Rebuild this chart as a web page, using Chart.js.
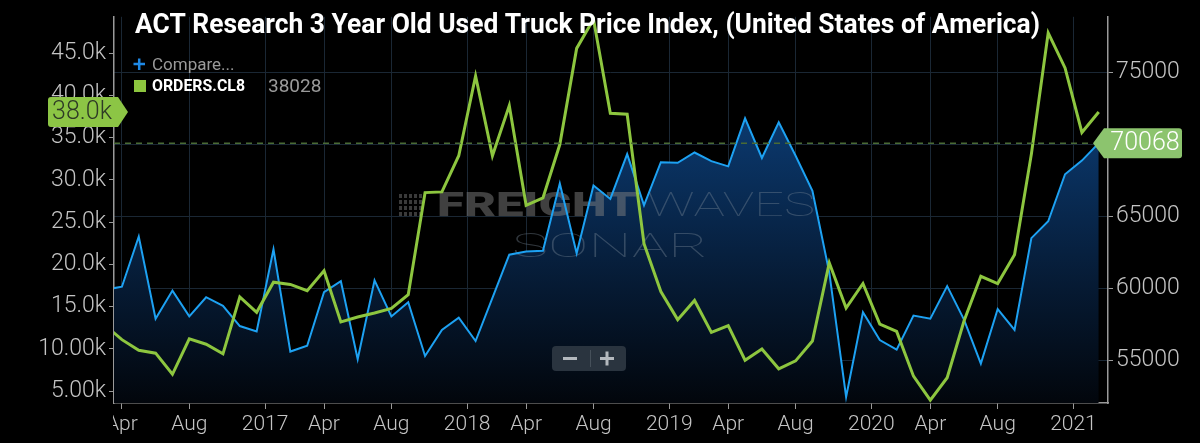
<!DOCTYPE html>
<html>
<head>
<meta charset="utf-8">
<script src="https://cdn.jsdelivr.net/npm/chart.js@4.4.0/dist/chart.umd.min.js"></script>
<style>
  html, body { margin: 0; padding: 0; background: #000; }
  #wrap { width: 1200px; height: 443px; }
</style>
</head>
<body>
<div id="wrap"><canvas id="myChart" width="1200" height="443"></canvas></div>
<script>
// monthly points, Mar 2016 .. Feb 2021 (x = month index, Apr 2016 = 0)
var months = [
  'Mar 16', 'Apr 16', 'May 16', 'Jun 16', 'Jul 16', 'Aug 16', 'Sep 16', 'Oct 16', 'Nov 16', 'Dec 16',
  'Jan 17', 'Feb 17', 'Mar 17', 'Apr 17', 'May 17', 'Jun 17', 'Jul 17', 'Aug 17', 'Sep 17', 'Oct 17', 'Nov 17', 'Dec 17',
  'Jan 18', 'Feb 18', 'Mar 18', 'Apr 18', 'May 18', 'Jun 18', 'Jul 18', 'Aug 18', 'Sep 18', 'Oct 18', 'Nov 18', 'Dec 18',
  'Jan 19', 'Feb 19', 'Mar 19', 'Apr 19', 'May 19', 'Jun 19', 'Jul 19', 'Aug 19', 'Sep 19', 'Oct 19', 'Nov 19', 'Dec 19',
  'Jan 20', 'Feb 20', 'Mar 20', 'Apr 20', 'May 20', 'Jun 20', 'Jul 20', 'Aug 20', 'Sep 20', 'Oct 20', 'Nov 20', 'Dec 20',
  'Jan 21', 'Feb 21'
];

// ORDERS.CL8 (left axis)
var orders = [
  12800, 11100, 9840, 9500, 7000, 11200, 10560, 9420, 16160, 14340,
  17900, 17630, 16900, 19250, 13200, 13780, 14260, 14800, 16420, 28500, 28580, 32860,
  42300, 32860, 38790, 27000, 27870, 34180, 45560, 49000, 37880, 37770, 22460, 16790,
  13470, 15740, 11960, 12760, 8670, 9990, 7650, 8590, 10940, 20190, 14830, 17740,
  12940, 12070, 6780, 3950, 6590, 13300, 18600, 17740, 21150, 33050, 47400, 43250,
  35610, 38028
];

// ACT Research 3 year old used truck price (right axis)
var usedPrice = [
  59900, 60110, 63590, 57890, 59840, 58050, 59380, 58780, 57380, 57010,
  62700, 55610, 56010, 59730, 60490, 55080, 60550, 58050, 59040, 55300, 57110, 57960,
  56340, 59340, 62330, 62550, 62610, 67270, 62430, 67130, 66200, 69310, 65760, 68750,
  68710, 69420, 68820, 68460, 71790, 69040, 71520, 69200, 66760, 61100, 52460, 58340,
  56410, 55740, 58110, 57890, 60150, 57830, 54770, 58560, 57110, 63480, 64650, 67910,
  68860, 70068
];

var xTickPos = [0, 4, 8.5, 12, 16, 20.5, 24, 28, 32.5, 36, 40, 44.5, 48, 52, 56.5];
var xTickText = ['Apr', 'Aug', '2017', 'Apr', 'Aug', '2018', 'Apr', 'Aug', '2019', 'Apr', 'Aug', '2020', 'Apr', 'Aug', '2021'];
var leftTicks = [5000, 10000, 15000, 20000, 25000, 30000, 35000, 40000, 45000];
var leftTickText = ['5.00k', '10.00k', '15.0k', '20.0k', '25.0k', '30.0k', '35.0k', '40.0k', '45.0k'];
var rightTicks = [55000, 60000, 65000, 70000, 75000];

var title = 'ACT Research 3 Year Old Used Truck Price Index, (United States of America)';
var gridColor = '#1a2734';
var axisColor = '#9a9a9a';
var labelColor = '#c4c4c4';
var green = '#8dc63f';
var blue = '#1da1f2';

Chart.defaults.font.family = 'Roboto';

function pts(arr) {
  return arr.map(function (v, i) { return { x: i - 1, y: v }; });
}

// draw text squeezed/stretched to a given width
function fitText(ctx, text, x, y, width) {
  var w = ctx.measureText(text).width;
  ctx.save();
  ctx.translate(x, y);
  ctx.scale(width / w, 1);
  ctx.fillText(text, 0, 0);
  ctx.restore();
}

function tag(ctx, side, y, text, fill, textColor) {
  var h = 15;
  ctx.save();
  ctx.fillStyle = fill;
  ctx.beginPath();
  if (side === 'left') {
    ctx.moveTo(51, y - h);
    ctx.lineTo(118, y - h);
    ctx.lineTo(128, y);
    ctx.lineTo(118, y + h);
    ctx.lineTo(51, y + h);
    ctx.quadraticCurveTo(48, y + h, 48, y + h - 3);
    ctx.lineTo(48, y - h + 3);
    ctx.quadraticCurveTo(48, y - h, 51, y - h);
  } else {
    ctx.moveTo(1093, y);
    ctx.lineTo(1104, y - h);
    ctx.lineTo(1179, y - h);
    ctx.quadraticCurveTo(1182, y - h, 1182, y - h + 3);
    ctx.lineTo(1182, y + h - 3);
    ctx.quadraticCurveTo(1182, y + h, 1179, y + h);
    ctx.lineTo(1104, y + h);
  }
  ctx.closePath();
  ctx.fill();
  ctx.fillStyle = textColor;
  ctx.font = '300 25px Roboto';
  ctx.textAlign = 'center';
  ctx.textBaseline = 'middle';
  ctx.fillText(text, side === 'left' ? 82 : 1145, y + 1);
  ctx.restore();
}

var decor = {
  id: 'decor',
  beforeDatasetsDraw: function (chart) {
    // FreightWaves SONAR watermark
    var ctx = chart.ctx;
    ctx.save();
    ctx.fillStyle = 'rgba(128,128,128,0.45)';
    for (var i = 0; i < 5; i++) {
      for (var j = 0; j < 4; j++) ctx.fillRect(399 + i * 5, 194 + j * 6, 3, 4);
    }
    ctx.textBaseline = 'alphabetic';
    ctx.textAlign = 'left';
    ctx.fillStyle = 'rgba(128,128,128,0.5)';
    ctx.font = '900 34px Roboto';
    fitText(ctx, 'FREIGHT', 437, 216, 200);
    ctx.fillStyle = 'rgba(120,135,150,0.4)';
    ctx.font = '100 34px Roboto';
    fitText(ctx, 'WAVES', 647, 216, 168);
    fitText(ctx, 'SONAR', 512, 257, 196);
    ctx.restore();
  },
  afterDatasetsDraw: function (chart) {
    var ctx = chart.ctx;
    var ca = chart.chartArea;
    var yR = chart.scales.yR;
    var yLast = yR.getPixelForValue(usedPrice[usedPrice.length - 1]);
    ctx.save();
    ctx.strokeStyle = '#4a6b35';
    ctx.lineWidth = 1.5;
    ctx.setLineDash([6, 5]);
    ctx.beginPath();
    ctx.moveTo(ca.left, yLast);
    ctx.lineTo(1093, yLast);
    ctx.stroke();
    ctx.setLineDash([]);
    // zoom buttons
    ctx.fillStyle = '#2a343f';
    ctx.beginPath();
    ctx.roundRect(552, 346, 74, 25, 4);
    ctx.fill();
    ctx.strokeStyle = '#b4b9be';
    ctx.lineWidth = 3;
    ctx.beginPath();
    ctx.moveTo(563, 358.5); ctx.lineTo(577, 358.5);
    ctx.moveTo(600, 358.5); ctx.lineTo(614, 358.5);
    ctx.moveTo(607, 351.5); ctx.lineTo(607, 365.5);
    ctx.stroke();
    ctx.strokeStyle = '#46505a';
    ctx.lineWidth = 1;
    ctx.beginPath();
    ctx.moveTo(590.5, 350); ctx.lineTo(590.5, 367);
    ctx.stroke();
    ctx.restore();
  },
  afterDraw: function (chart) {
    var ctx = chart.ctx;
    ctx.save();
    // first x label is cut by the left axis
    ctx.fillStyle = '#000';
    ctx.fillRect(0, 405, chart.chartArea.left - 1, 38);
    // title
    ctx.fillStyle = '#ffffff';
    ctx.font = 'bold 28px Roboto';
    ctx.textAlign = 'left';
    ctx.textBaseline = 'alphabetic';
    fitText(ctx, title, 135, 33, 905);
    // legend
    ctx.strokeStyle = '#1e88e5';
    ctx.lineWidth = 2.5;
    ctx.beginPath();
    ctx.moveTo(133.5, 64); ctx.lineTo(145, 64);
    ctx.moveTo(139.2, 58.5); ctx.lineTo(139.2, 70);
    ctx.stroke();
    ctx.textBaseline = 'middle';
    ctx.fillStyle = '#9a9a9a';
    ctx.font = '400 17px Roboto';
    ctx.fillText('Compare...', 152, 66);
    ctx.fillStyle = green;
    ctx.fillRect(134, 80, 12, 12);
    ctx.fillStyle = '#ffffff';
    ctx.font = 'bold 17px Roboto';
    fitText(ctx, 'ORDERS.CL8', 152, 87, 93);
    ctx.fillStyle = '#9a9a9a';
    ctx.font = '400 19px Roboto';
    ctx.fillText(String(orders[orders.length - 1]), 268, 87);
    ctx.restore();
    // last value tags
    var lastOrders = orders[orders.length - 1];
    var lastPrice = usedPrice[usedPrice.length - 1];
    tag(ctx, 'left', chart.scales.yL.getPixelForValue(lastOrders), (lastOrders / 1000).toFixed(1) + 'k', '#8cc545', '#2e3a26');
    tag(ctx, 'right', chart.scales.yR.getPixelForValue(lastPrice), String(lastPrice), '#8cc46e', '#ffffff');
  }
};

var ctx = document.getElementById('myChart').getContext('2d');
var myChart = new Chart(ctx, {
  type: 'line',
  data: {
    datasets: [{
      label: 'ORDERS.CL8',
      data: pts(orders),
      yAxisID: 'yL',
      borderColor: green,
      borderWidth: 3,
      pointRadius: 0,
      fill: false,
      tension: 0
    }, {
      label: 'Used Truck Price Index',
      data: pts(usedPrice),
      yAxisID: 'yR',
      borderColor: blue,
      borderWidth: 2,
      pointRadius: 0,
      tension: 0,
      fill: 'start',
      backgroundColor: function (context) {
        var ch = context.chart;
        var ca = ch.chartArea;
        if (!ca) return 'rgba(10,50,100,0.6)';
        var g = ch.ctx.createLinearGradient(0, ca.top, 0, ca.bottom);
        g.addColorStop(0, '#0f4a8a');
        g.addColorStop(0.35, '#0a3363');
        g.addColorStop(0.7, '#061a33');
        g.addColorStop(1, '#02060c');
        return g;
      }
    }]
  },
  options: {
    responsive: false,
    animation: false,
    layout: { padding: 0 },
    plugins: {
      legend: { display: false },
      tooltip: { enabled: false },
      filler: { drawTime: 'beforeDatasetsDraw' }
    },
    scales: {
      x: {
        type: 'linear',
        position: 'bottom',
        min: -0.47,
        max: 58.55,
        afterBuildTicks: function (scale) {
          scale.ticks = xTickPos.map(function (v) { return { value: v }; });
        },
        afterFit: function (scale) { scale.height = 40; },
        ticks: {
          autoSkip: false,
          maxRotation: 0,
          minRotation: 0,
          padding: 3,
          color: labelColor,
          font: { size: 21, weight: '300' },
          callback: function (v) {
            var i = xTickPos.indexOf(v);
            return i >= 0 ? xTickText[i] : '';
          }
        },
        grid: { color: gridColor, tickColor: axisColor, tickLength: 6 },
        border: { display: true, color: axisColor, width: 1.5 }
      },
      yL: {
        type: 'linear',
        position: 'left',
        min: 3605,
        max: 49297,
        afterBuildTicks: function (scale) {
          scale.ticks = leftTicks.map(function (v) { return { value: v }; });
        },
        afterFit: function (scale) { scale.width = 114; },
        ticks: {
          padding: 3,
          color: labelColor,
          font: { size: 23, weight: '300' },
          callback: function (v) {
            var i = leftTicks.indexOf(v);
            return i >= 0 ? leftTickText[i] : '';
          }
        },
        grid: { drawOnChartArea: false, tickColor: axisColor, tickLength: 5 },
        border: { display: true, color: axisColor, width: 1.5 }
      },
      yR: {
        type: 'linear',
        position: 'right',
        min: 52041,
        max: 78836,
        afterBuildTicks: function (scale) {
          scale.ticks = rightTicks.map(function (v) { return { value: v }; });
        },
        afterFit: function (scale) { scale.width = 92; },
        ticks: {
          padding: 3,
          color: labelColor,
          font: { size: 23, weight: '300' },
          callback: function (v) { return String(v); }
        },
        grid: { color: gridColor, tickColor: axisColor, tickLength: 5 },
        border: { display: true, color: axisColor, width: 1.5 }
      }
    }
  },
  plugins: [decor]
});
</script>
</body>
</html>
